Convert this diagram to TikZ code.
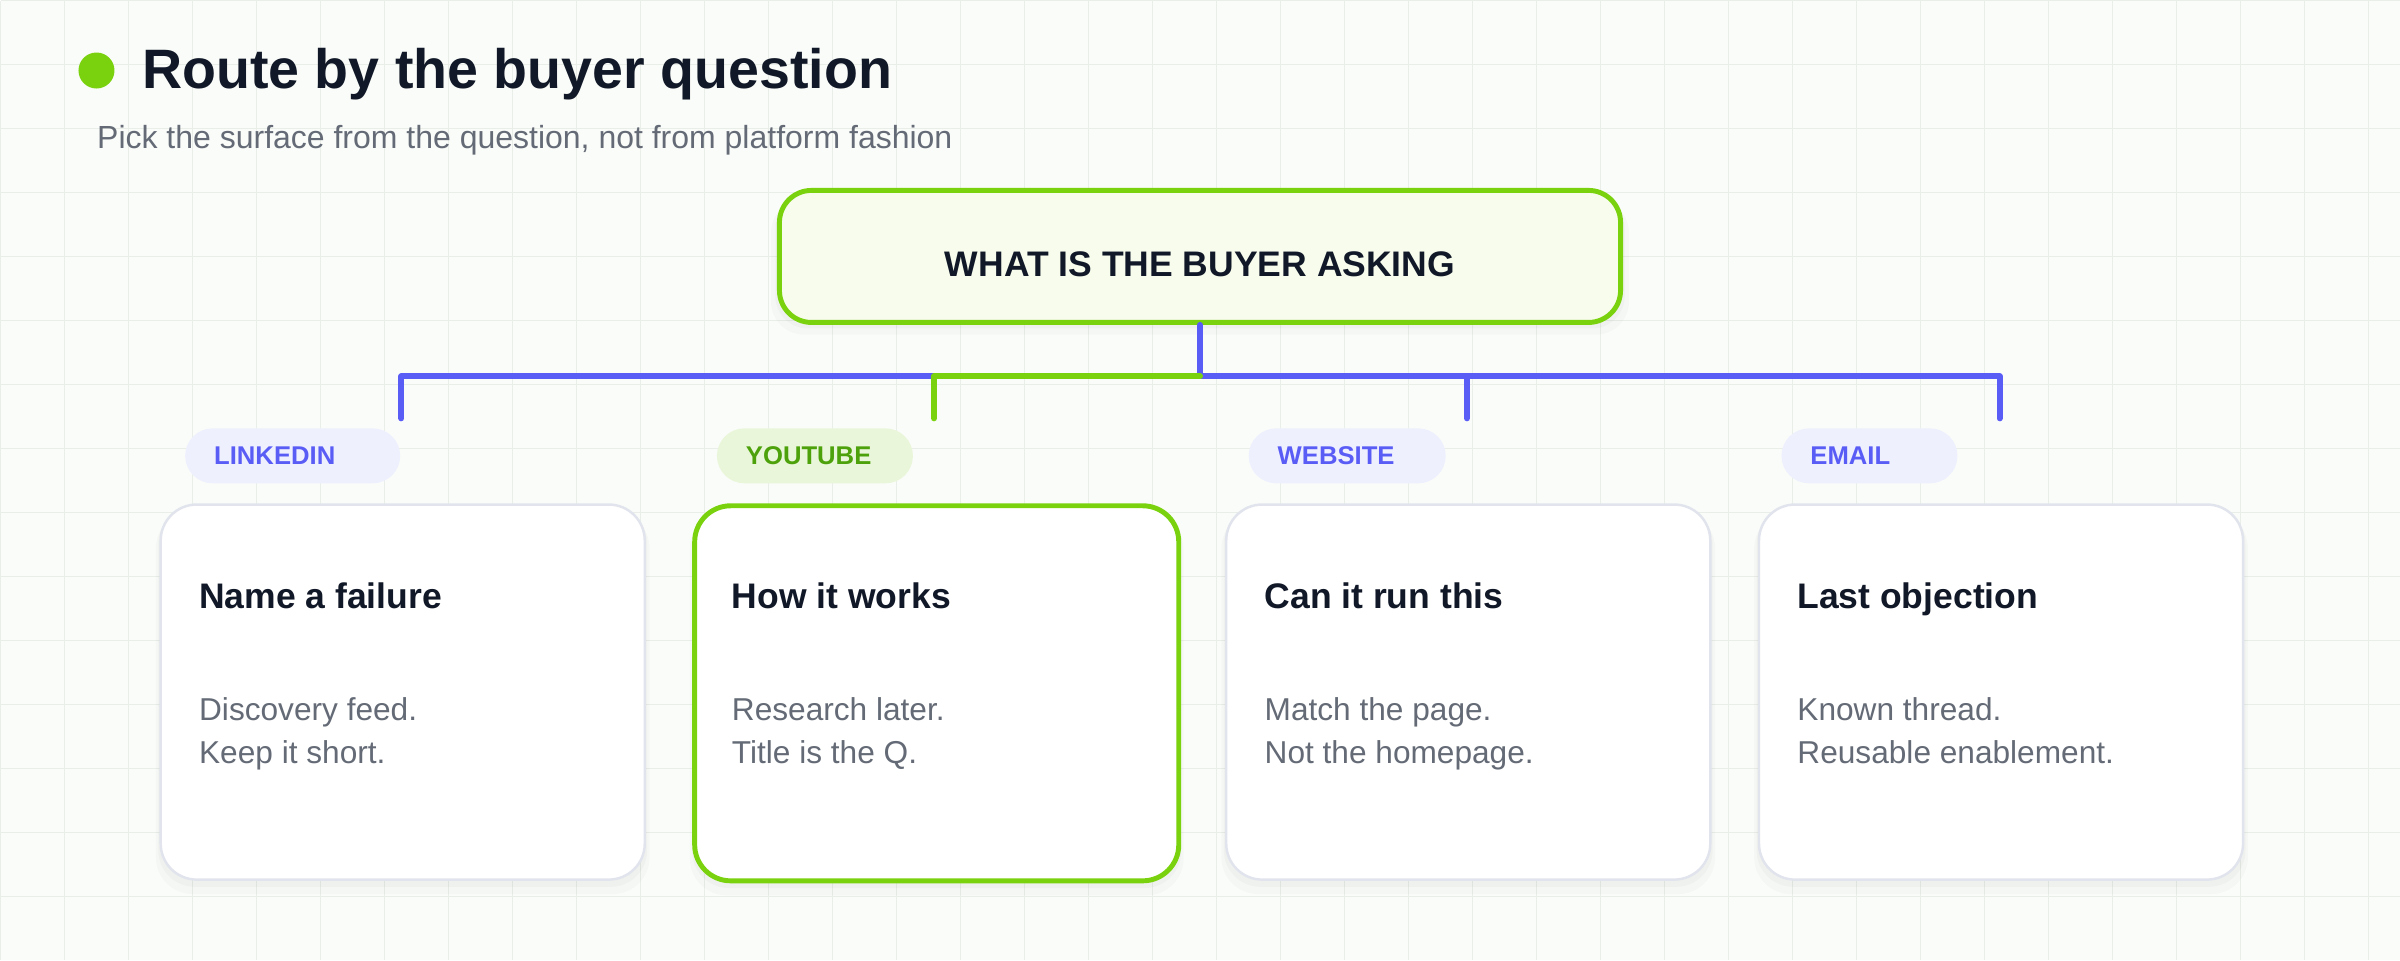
\documentclass[tikz,border=0pt]{standalone}
\usepackage{fontspec}
\setmainfont{Liberation Sans}
\usetikzlibrary{shadows}

\definecolor{routegreen}{HTML}{7AD20E}
\definecolor{routeblue}{HTML}{5A5CF6}
\definecolor{tagbluefill}{HTML}{EEF0FE}
\definecolor{taggreenfill}{HTML}{EAF6DA}
\definecolor{taggreentext}{HTML}{4DA20C}
\definecolor{inkdark}{HTML}{111827}
\definecolor{inkgray}{HTML}{646B76}
\definecolor{cardline}{HTML}{E1E4EC}
\definecolor{rootfill}{HTML}{F7FCEC}
\definecolor{paper}{HTML}{FAFCF9}
\definecolor{gridcol}{HTML}{EAEEE8}

\newcommand\tagtext[2]{\makebox[#1][l]{#2}}

\begin{document}
\begin{tikzpicture}[x=0.01cm,y=-0.01cm,
    gridline/.style={draw=gridcol,line width=0.3pt},
    wire/.style={line width=1.7pt,line cap=round,line join=round},
    softshadow/.style={drop shadow={shadow xshift=0pt,shadow yshift=-3pt,shadow scale=1.02,fill=black,opacity=0.02},
      drop shadow={shadow xshift=0pt,shadow yshift=-1.5pt,shadow scale=1.01,fill=black,opacity=0.025}},
    card/.style={draw=cardline,line width=0.7pt,fill=white,rounded corners=0.36cm,
      minimum width=4.84cm,minimum height=3.75cm,anchor=north west,softshadow},
    cardon/.style={card,draw=routegreen,line width=1.4pt},
    tag/.style={rounded corners=0.275cm,minimum height=0.55cm,inner xsep=0.29cm,inner ysep=0pt,
      anchor=west,font=\fontsize{7.3pt}{8pt}\selectfont\bfseries,text height=0.18cm,text depth=0pt},
    tagblue/.style={tag,fill=tagbluefill,text=routeblue},
    taggreen/.style={tag,fill=taggreenfill,text=taggreentext},
    head/.style={anchor=base west,inner sep=0pt,text=inkdark,font=\fontsize{10.1pt}{12pt}\selectfont\bfseries},
    body/.style={anchor=base west,inner sep=0pt,text=inkgray,align=left,font=\fontsize{9pt}{12.2pt}\selectfont}]

    % paper and grid
    \fill[paper] (0,0) rectangle (2400,960);
    \draw[gridline,step=0.64cm] (0,0) grid (2400,960);
    \useasboundingbox (0,0) rectangle (2400,960);

    % heading
    \node[circle,fill=routegreen,minimum size=0.36cm,inner sep=0pt] (dot) at (96,70) {};
    \node[anchor=base west,inner sep=0pt,text=inkdark,font=\fontsize{15.8pt}{18pt}\selectfont\bfseries] (title) at (141,88) {Route by the buyer question};
    \node[anchor=base west,inner sep=0pt,text=inkgray,font=\fontsize{9.1pt}{11pt}\selectfont] (sub) at (96,148) {Pick the surface from the question, not from platform fashion};

    % root question
    \node[draw=routegreen,line width=1.4pt,fill=rootfill,rounded corners=0.32cm,
      minimum width=8.41cm,minimum height=1.32cm,text height=0.40cm,text depth=0pt,
      text=inkdark,font=\fontsize{10.1pt}{12pt}\selectfont\bfseries,softshadow] (ask) at (1200,256) {WHAT IS THE BUYER ASKING};

    % branches
    \coordinate (hub) at (1200,376);
    \coordinate (dli) at (401,418);
    \coordinate (dyt) at (934,418);
    \coordinate (dweb) at (1467,418);
    \coordinate (dmail) at (2000,418);
    \draw[wire,routeblue] (ask.south) -- (hub) -| (dli);
    \draw[wire,routeblue] (hub) -| (dmail);
    \draw[wire,routeblue] (hub) -| (dweb);
    \draw[wire,routegreen] (hub) -| (dyt);

    % tags
    \node[tagblue] (tli) at (184,455.5) {\tagtext{1.57cm}{LINKEDIN}};
    \node[taggreen] (tyt) at (716,455.5) {\tagtext{1.38cm}{YOUTUBE}};
    \node[tagblue] (tweb) at (1248,455.5) {\tagtext{1.39cm}{WEBSITE}};
    \node[tagblue] (tmail) at (1781,455.5) {\tagtext{1.18cm}{EMAIL}};

    % cards
    \node[card] (li) at (159,503) {};
    \node[cardon] (yt) at (692,503) {};
    \node[card] (web) at (1225,503) {};
    \node[card] (mail) at (1758,503) {};

    \node[head] (hli) at (198,608) {Name a failure};
    \node[body] (bli) at (198,763) {Discovery feed.\\Keep it short.};
    \node[head] (hyt) at (731,608) {How it works};
    \node[body] (byt) at (731,763) {Research later.\\Title is the Q.};
    \node[head] (hweb) at (1264,608) {Can it run this};
    \node[body] (bweb) at (1264,763) {Match the page.\\Not the homepage.};
    \node[head] (hmail) at (1797,608) {Last objection};
    \node[body] (bmail) at (1797,763) {Known thread.\\Reusable enablement.};
\end{tikzpicture}
\end{document}
